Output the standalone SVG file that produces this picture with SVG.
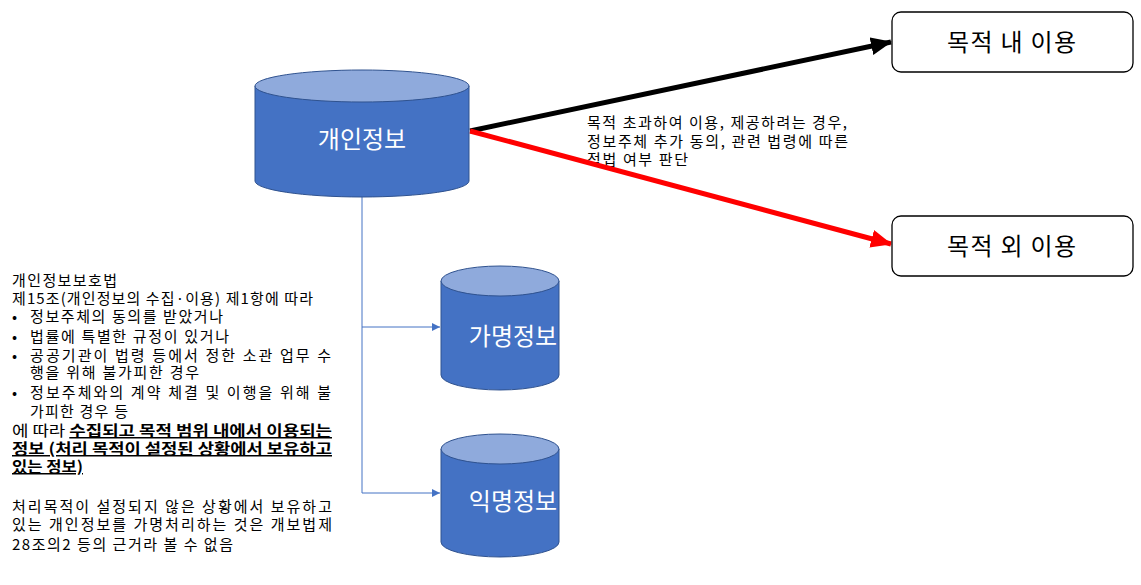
<svg xmlns="http://www.w3.org/2000/svg" width="1141" height="585" viewBox="0 0 1141 585">
<style>
text{font-family:"Noto Sans CJK KR","Noto Sans",sans-serif}
.body{fill:#4472C4;stroke:#2F528F;stroke-width:1}
.top{fill:#8FAADC;stroke:#2F528F;stroke-width:1}
.cyl{fill:#fff;font-size:24px;text-anchor:middle}
.box{fill:#fff;stroke:#000;stroke-width:1.3}
.btxt{fill:#000;font-size:24px}
.t{font-size:15px;fill:#000}
.u{font-weight:bold;text-decoration:underline}
</style>
<defs>
<marker id="ab" markerUnits="userSpaceOnUse" markerWidth="24" markerHeight="20" refX="20" refY="9" orient="auto"><path d="M0,0 L21,9 L0,18 Z" fill="#000"/></marker>
<marker id="ar" markerUnits="userSpaceOnUse" markerWidth="24" markerHeight="20" refX="20" refY="9" orient="auto"><path d="M0,0 L21,9 L0,18 Z" fill="#FF0000"/></marker>
<marker id="abl" markerUnits="userSpaceOnUse" markerWidth="10" markerHeight="10" refX="8" refY="4" orient="auto"><path d="M0,0 L8,4 L0,8 Z" fill="#4472C4"/></marker>
</defs>
<g id="label-notes">
<text class="t" x="12" y="286" textLength="105" lengthAdjust="spacing">개인정보보호법</text>
<text class="t" x="12" y="304" textLength="301" lengthAdjust="spacing">제15조(개인정보의  수집·이용) 제1항에 따라</text>
<text class="t" x="12" y="322">•</text><text class="t" x="30" y="322" textLength="193" lengthAdjust="spacing">정보주체의 동의를 받았거나</text>
<text class="t" x="12" y="342">•</text><text class="t" x="30" y="342" textLength="199" lengthAdjust="spacing">법률에 특별한 규정이 있거나</text>
<text class="t" x="12" y="361">•</text><text class="t" x="30" y="361" textLength="301" lengthAdjust="spacing">공공기관이 법령 등에서 정한 소관 업무 수</text>
<text class="t" x="30" y="378" textLength="169" lengthAdjust="spacing">행을 위해 불가피한 경우</text>
<text class="t" x="12" y="398">•</text><text class="t" x="30" y="398" textLength="301" lengthAdjust="spacing">정보주체와의 계약 체결 및 이행을 위해 불</text>
<text class="t" x="30" y="417" textLength="98" lengthAdjust="spacing">가피한 경우 등</text>
<text class="t" x="12" y="436" textLength="320" lengthAdjust="spacingAndGlyphs">에 따라 <tspan class="u">수집되고 목적 범위 내에서 이용되는</tspan></text>
<text class="t u" x="12" y="454" textLength="320" lengthAdjust="spacingAndGlyphs">정보 (처리 목적이 설정된 상황에서 보유하고</text>
<text class="t u" x="12" y="472" textLength="71" lengthAdjust="spacingAndGlyphs">있는 정보)</text>
<text class="t" x="12" y="512" textLength="320" lengthAdjust="spacing">처리목적이 설정되지 않은 상황에서 보유하고</text>
<text class="t" x="12" y="530" textLength="320" lengthAdjust="spacing">있는 개인정보를 가명처리하는 것은 개보법제</text>
<text class="t" x="12" y="550" textLength="221" lengthAdjust="spacing">28조의2 등의 근거라 볼 수 없음</text>
</g>
<g id="label-mid">
<text class="t" x="587" y="128" textLength="260" lengthAdjust="spacing">목적 초과하여 이용, 제공하려는 경우,</text>
<text class="t" x="587" y="147" textLength="261" lengthAdjust="spacing">정보주체 추가 동의, 관련 법령에 따른</text>
<text class="t" x="587" y="165" textLength="101" lengthAdjust="spacing">적법 여부 판단</text>
</g>
<g id="connectors">
<path d="M362,197 V493" fill="none" stroke="#4472C4" stroke-width="1"/>
<line x1="362" y1="327" x2="440" y2="327" stroke="#4472C4" stroke-width="1" marker-end="url(#abl)"/>
<line x1="362" y1="493" x2="440" y2="493" stroke="#4472C4" stroke-width="1" marker-end="url(#abl)"/>
<line x1="470" y1="131" x2="891" y2="42" stroke="#000" stroke-width="5" marker-end="url(#ab)"/>
<line x1="470" y1="131" x2="891" y2="244" stroke="#FF0000" stroke-width="5" marker-end="url(#ar)"/>
</g>
<g id="node-personal">
<path class="body" d="M255,86 V181 A107,16 0 0 0 469,181 V86 Z"/>
<ellipse class="top" cx="362" cy="86" rx="107" ry="16"/>
<text class="cyl" x="362" y="148">개인정보</text>
</g>
<g id="node-pseudo">
<path class="body" d="M441,281 V375 A59,15 0 0 0 559,375 V281 Z"/>
<ellipse class="top" cx="500" cy="281" rx="59" ry="15"/>
<text class="cyl" x="513" y="345">가명정보</text>
</g>
<g id="node-anon">
<path class="body" d="M441,449 V542 A59,15 0 0 0 559,542 V449 Z"/>
<ellipse class="top" cx="500" cy="449" rx="59" ry="15"/>
<text class="cyl" x="513" y="510">익명정보</text>
</g>
<g id="node-within">
<rect class="box" x="892" y="12" width="241" height="60" rx="9"/>
<text class="btxt" x="947" y="51" textLength="129" lengthAdjust="spacing">목적 내 이용</text>
</g>
<g id="node-outside">
<rect class="box" x="892" y="216" width="241" height="60" rx="9"/>
<text class="btxt" x="947" y="255" textLength="129" lengthAdjust="spacing">목적 외 이용</text>
</g>
</svg>
